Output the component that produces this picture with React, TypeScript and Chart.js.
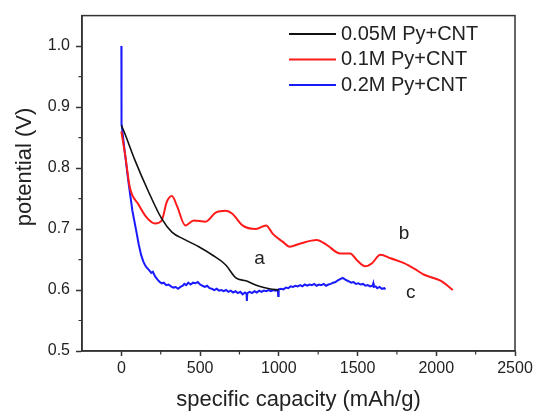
import React, { useEffect, useRef } from "react";
import { Chart, registerables } from "chart.js";

Chart.register(...registerables);

// ---- data ----
const seriesLabels = ["0.05M Py+CNT", "0.1M Py+CNT", "0.2M Py+CNT"];
const seriesColors = ["#111111", "#ff1a1a", "#1a1aff"];

const capacity005 = [0, 20, 86, 171, 256, 321, 400, 492, 580, 663, 727, 791, 876, 940, 1000];
const potential005 = [0.87, 0.858, 0.813, 0.762, 0.717, 0.695, 0.683, 0.671, 0.657, 0.641, 0.62, 0.615, 0.606, 0.602, 0.6];

const capacity01 = [0, 25, 54, 107, 160, 214, 256, 288, 321, 353, 406, 460, 535, 599, 663, 705, 769, 855, 919, 962, 1026, 1069, 1133, 1240, 1304, 1389, 1453, 1496, 1549, 1592, 1645, 1710, 1795, 1860, 1923, 2030, 2105];
const potential01 = [0.86, 0.82, 0.768, 0.741, 0.719, 0.709, 0.714, 0.744, 0.754, 0.738, 0.706, 0.714, 0.712, 0.727, 0.73, 0.725, 0.706, 0.7, 0.706, 0.692, 0.679, 0.671, 0.676, 0.682, 0.674, 0.66, 0.66, 0.649, 0.639, 0.644, 0.658, 0.652, 0.644, 0.635, 0.625, 0.615, 0.6];

const capacity02 = [
  0, 0, 2, 20, 43, 70, 96, 110, 125, 139, 150, 160, 175, 190, 200, 215, 230, 245, 258, 270, 285,
  300, 315, 330, 345, 360, 375, 390, 400, 412, 425, 440, 455, 470, 485, 500, 515, 530, 545, 560,
  575, 590, 605, 620, 635, 650, 665, 680, 695, 710, 725, 740, 755, 770, 785, 795, 797, 800, 815,
  830, 845, 860, 875, 890, 905, 920, 935, 950, 965, 980, 994, 996, 999, 1015, 1030, 1045, 1060,
  1075, 1090, 1105, 1120, 1135, 1150, 1165, 1180, 1195, 1210, 1225, 1240, 1255, 1270, 1285, 1300,
  1315, 1330, 1345, 1360, 1375, 1390, 1405, 1418, 1430, 1445, 1460, 1475, 1490, 1505, 1520, 1535,
  1550, 1565, 1580, 1595, 1600, 1603, 1615, 1625, 1640, 1655, 1670, 1677,
];
const potential02 = [
  1.0, 0.87, 0.873, 0.83, 0.781, 0.73, 0.695, 0.675, 0.658, 0.647, 0.641, 0.637, 0.633, 0.628, 0.63, 0.622, 0.617, 0.613, 0.611, 0.612, 0.608,
  0.609, 0.606, 0.604, 0.605, 0.602, 0.605, 0.607, 0.61, 0.608, 0.612, 0.609, 0.612, 0.611, 0.613, 0.609, 0.607, 0.605, 0.607, 0.603,
  0.602, 0.6, 0.602, 0.599, 0.6, 0.598, 0.6, 0.597, 0.599, 0.596, 0.598, 0.595, 0.597, 0.593, 0.596, 0.594, 0.582, 0.595, 0.597,
  0.595, 0.598, 0.596, 0.599, 0.597, 0.599, 0.598, 0.6, 0.598, 0.6, 0.599, 0.6, 0.59, 0.601, 0.602, 0.601, 0.604, 0.603,
  0.606, 0.605, 0.607, 0.606, 0.608, 0.606, 0.609, 0.607, 0.609, 0.608, 0.61, 0.607, 0.609, 0.608, 0.61, 0.607,
  0.609, 0.61, 0.612, 0.613, 0.616, 0.618, 0.62, 0.618, 0.616, 0.614, 0.612, 0.613, 0.61, 0.611, 0.609, 0.61,
  0.607, 0.608, 0.606, 0.607, 0.611, 0.605, 0.606, 0.603, 0.605, 0.602, 0.603, 0.601,
];

const xTicks = [0, 500, 1000, 1500, 2000, 2500];
const yTicks = [0.5, 0.6, 0.7, 0.8, 0.9, 1.0];
const xMinorTicks = [250, 750, 1250, 1750, 2250];
const yMinorTicks = [0.55, 0.65, 0.75, 0.85, 0.95];

const xAxisTitle = "specific capacity (mAh/g)";
const yAxisTitle = "potential (V)";

const curveTags = ["a", "b", "c"];
const curveTagX = [877, 1795, 1838];
const curveTagY = [0.652, 0.692, 0.596];

const FONT = "'Liberation Sans', Arial, Helvetica, sans-serif";
const AXIS = "#333333";
const TEXT = "#222222";

const toPoints = (xs: number[], ys: number[]) => xs.map((x, i) => ({ x, y: ys[i] }));

const decorPlugin = {
  id: "decor",
  afterDatasetsDraw(chart: any) {
    const { ctx, chartArea, scales } = chart;
    const xs = scales.x;
    const ys = scales.y;
    ctx.save();
    // frame
    ctx.strokeStyle = AXIS;
    ctx.lineWidth = 1.5;
    ctx.strokeRect(chartArea.left, chartArea.top, chartArea.right - chartArea.left, chartArea.bottom - chartArea.top);
    // minor ticks
    ctx.lineWidth = 1.2;
    ctx.beginPath();
    xMinorTicks.forEach((v) => {
      const px = xs.getPixelForValue(v);
      ctx.moveTo(px, chartArea.bottom);
      ctx.lineTo(px, chartArea.bottom + 3.5);
    });
    yMinorTicks.forEach((v) => {
      const py = ys.getPixelForValue(v);
      ctx.moveTo(chartArea.left, py);
      ctx.lineTo(chartArea.left - 3.5, py);
    });
    ctx.stroke();
    // y axis title
    ctx.save();
    ctx.translate(25, 167);
    ctx.rotate(-Math.PI / 2);
    ctx.font = `22px ${FONT}`;
    ctx.fillStyle = TEXT;
    ctx.textAlign = "center";
    ctx.textBaseline = "middle";
    ctx.fillText(yAxisTitle, 0, 0);
    ctx.restore();
    // legend
    ctx.font = `20px ${FONT}`;
    ctx.textBaseline = "middle";
    ctx.textAlign = "left";
    chart.data.datasets.forEach((ds: any, i: number) => {
      const y = 34 + i * 25.5;
      ctx.strokeStyle = ds.borderColor;
      ctx.lineWidth = 2;
      ctx.beginPath();
      ctx.moveTo(289, y);
      ctx.lineTo(336, y);
      ctx.stroke();
      ctx.fillStyle = TEXT;
      ctx.fillText(ds.label, 341, y);
    });
    // curve tags
    ctx.font = `19px ${FONT}`;
    ctx.textAlign = "center";
    curveTags.forEach((t, i) => {
      ctx.fillText(t, xs.getPixelForValue(curveTagX[i]), ys.getPixelForValue(curveTagY[i]));
    });
    ctx.restore();
  },
};

export default function App() {
  const ref = useRef<HTMLCanvasElement | null>(null);
  useEffect(() => {
    if (!ref.current) return;
    const xsArr = [capacity005, capacity01, capacity02];
    const ysArr = [potential005, potential01, potential02];
    const chart = new Chart(ref.current, {
      type: "line",
      data: {
        datasets: seriesLabels.map((label, i) => ({
          label,
          data: toPoints(xsArr[i], ysArr[i]),
          borderColor: seriesColors[i],
          backgroundColor: seriesColors[i],
          borderWidth: i === 0 ? 1.6 : 2,
          pointRadius: 0,
          fill: false,
          tension: i === 2 ? 0 : 0.35,
          cubicInterpolationMode: i === 2 ? "default" : "monotone",
        })),
      },
      options: {
        animation: false,
        responsive: false,
        devicePixelRatio: 1,
        layout: { padding: { left: 0, right: 23, top: 8, bottom: 0 } },
        plugins: { legend: { display: false }, tooltip: { enabled: false } },
        scales: {
          x: {
            type: "linear",
            min: -250,
            max: 2500,
            afterBuildTicks: (s: any) => {
              s.ticks = xTicks.map((v) => ({ value: v }));
            },
            afterFit: (s: any) => {
              s.height = 62;
            },
            ticks: {
              font: { size: 16, family: FONT },
              color: TEXT,
              padding: 3,
              maxRotation: 0,
              autoSkip: false,
              callback: (v: any) => String(v),
            },
            grid: { display: true, drawOnChartArea: false, drawTicks: true, tickLength: 5, color: AXIS, tickWidth: 1.5 },
            border: { display: true, color: AXIS, width: 1.5 },
            title: {
              display: true,
              text: xAxisTitle,
              font: { size: 22, family: FONT },
              color: TEXT,
              padding: { top: 0, bottom: 0 },
            },
          },
          y: {
            type: "linear",
            min: 0.5,
            max: 1.05,
            afterBuildTicks: (s: any) => {
              s.ticks = yTicks.map((v) => ({ value: v }));
            },
            afterFit: (s: any) => {
              s.width = 82;
            },
            ticks: {
              font: { size: 16, family: FONT },
              color: TEXT,
              padding: 6,
              autoSkip: false,
              callback: (v: any) => Number(v).toFixed(1),
            },
            grid: { display: true, drawOnChartArea: false, drawTicks: true, tickLength: 6, color: AXIS, tickWidth: 1.5 },
            border: { display: true, color: AXIS, width: 1.5 },
            title: { display: false },
          },
        },
      },
      plugins: [decorPlugin],
    } as any);
    return () => chart.destroy();
  }, []);
  return (
    <div style={{ position: "absolute", left: 0, top: 0, width: 538, height: 413, background: "#fff" }}>
      <canvas ref={ref} width={538} height={413} style={{ width: 538, height: 413, display: "block" }} />
    </div>
  );
}
